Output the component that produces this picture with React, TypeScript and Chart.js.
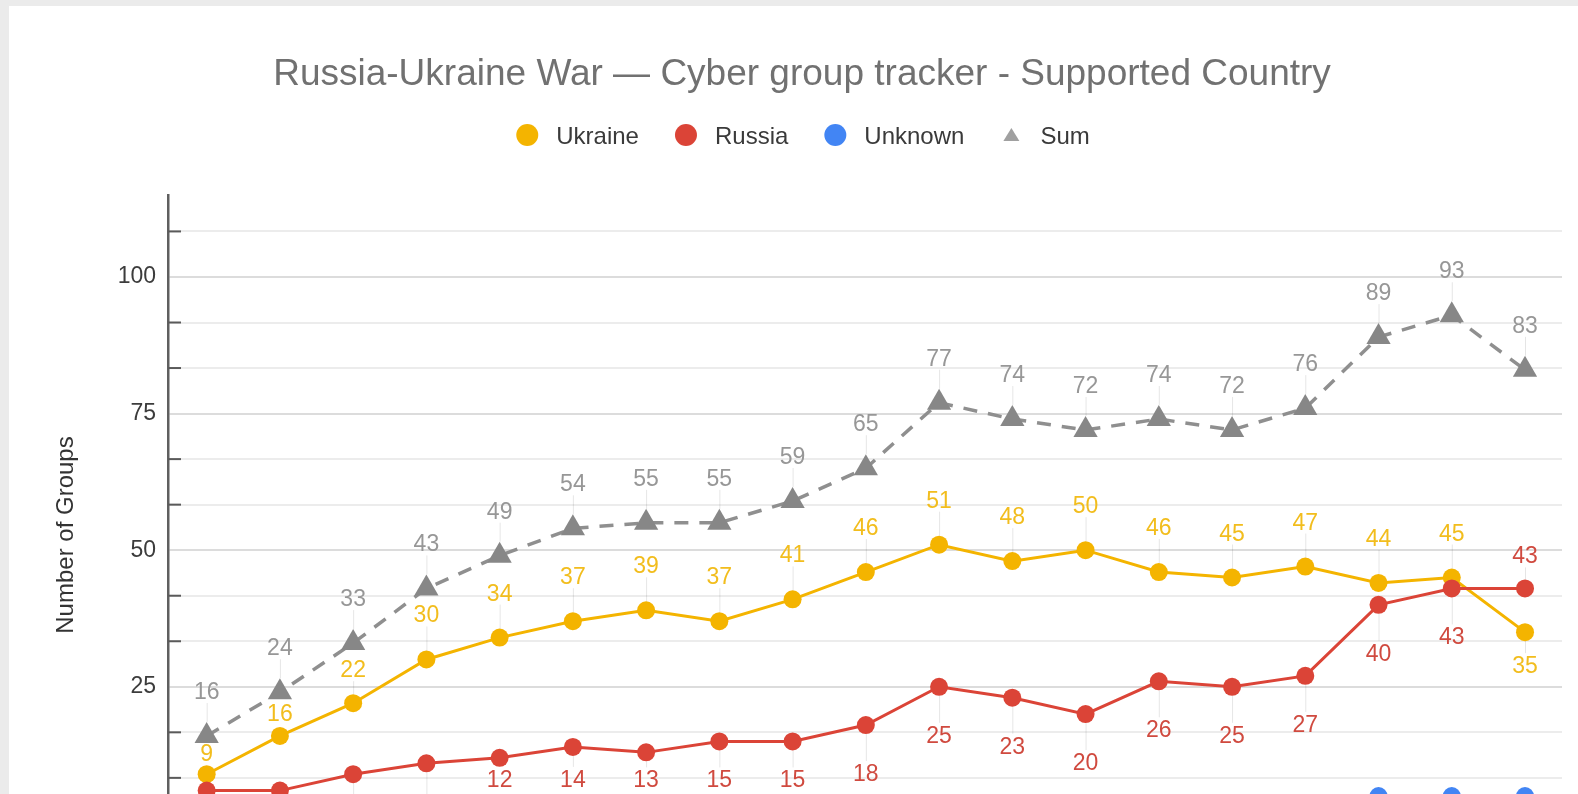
import React, { useEffect, useRef } from "react";
import { Chart, registerables } from "chart.js";

Chart.register(...registerables);

// ---------- data ----------
const TITLE = "Russia-Ukraine War — Cyber group tracker - Supported Country";
const Y_TITLE = "Number of Groups";
const SERIES_NAMES = ["Ukraine", "Russia", "Unknown", "Sum"];
const ukraine = [9, 16, 22, 30, 34, 37, 39, 37, 41, 46, 51, 48, 50, 46, 45, 47, 44, 45, 35];
const russia = [6, 6, 9, 11, 12, 14, 13, 15, 15, 18, 25, 23, 20, 26, 25, 27, 40, 43, 43];
const unknown = [1, 2, 2, 2, 3, 3, 3, 3, 3, 1, 1, 3, 2, 2, 2, 2, 5, 5, 5];
const sum = [16, 24, 33, 43, 49, 54, 55, 55, 59, 65, 77, 74, 72, 74, 72, 76, 89, 93, 83];
const Y_MAJOR_LABELS = [0, 25, 50, 75, 100];
const Y_GRID_STEP = 25 / 3;
const Y_MAX = 115;

// ---------- style ----------
const FONT = "'Liberation Sans', Arial, Helvetica, sans-serif";
const COLORS = ["#f4b400", "#db4437", "#4285f4", "#9a9a9a"];
const LABEL_COLORS = ["#f2bd1d", "#d04a3f", "#4285f4", "#979797"];
const LABEL_DEFAULT_OFFSET = [-45, 48, 48, -45];
const LABEL_OFFSET_OVERRIDES: Record<number, number>[] = [
  { 0: -21, 1: -23, 2: -34, 18: 33 },
  { 4: 21, 5: 32, 6: 27, 7: 38, 8: 38, 18: -33 },
  {},
  {},
];

const isMajor = (v: number) => {
  const r = Math.round(v);
  return Math.abs(v - r) < 0.01 && r % 25 === 0;
};

const toXY = (arr: number[]) => arr.map((v, i) => ({ x: i, y: v }));

const decorPlugin = {
  id: "decor",
  beforeDraw(chart: any) {
    const { ctx, width, height } = chart;
    ctx.save();
    ctx.fillStyle = "#ebebeb";
    ctx.fillRect(0, 0, width, height);
    ctx.fillStyle = "#ffffff";
    ctx.fillRect(9, 6, width, height);
    ctx.restore();
  },
  afterDatasetsDraw(chart: any) {
    const { ctx } = chart;
    ctx.save();
    ctx.font = `23px ${FONT}`;
    ctx.textAlign = "center";
    ctx.textBaseline = "alphabetic";
    chart.data.datasets.forEach((ds: any, di: number) => {
      const meta = chart.getDatasetMeta(di);
      const r = di === 3 ? 14 : 9;
      meta.data.forEach((pt: any, i: number) => {
        const ov = LABEL_OFFSET_OVERRIDES[di][i];
        const off = ov !== undefined ? ov : LABEL_DEFAULT_OFFSET[di];
        const ly = pt.y + off;
        // leader line
        ctx.strokeStyle = "rgba(0,0,0,0.10)";
        ctx.lineWidth = 1;
        ctx.beginPath();
        if (off < 0) {
          const y1 = ly + 12;
          const y2 = pt.y - r;
          if (y2 - y1 > 2) {
            ctx.moveTo(pt.x + 0.5, y1);
            ctx.lineTo(pt.x + 0.5, y2);
          }
        } else {
          const y1 = pt.y + (di === 3 ? 7 : r);
          const y2 = ly - 12;
          if (y2 - y1 > 2) {
            ctx.moveTo(pt.x + 0.5, y1);
            ctx.lineTo(pt.x + 0.5, y2);
          }
        }
        ctx.stroke();
        ctx.fillStyle = LABEL_COLORS[di];
        ctx.fillText(String(ds.data[i].y), pt.x, ly + 8);
      });
    });
    ctx.restore();
  },
  afterDraw(chart: any) {
    const { ctx, chartArea, scales } = chart;
    ctx.save();
    // title
    ctx.fillStyle = "#717171";
    ctx.font = `37px ${FONT}`;
    ctx.textAlign = "center";
    ctx.textBaseline = "alphabetic";
    ctx.fillText(TITLE, 802, 85);

    // legend
    ctx.font = `24px ${FONT}`;
    ctx.textAlign = "left";
    const widths = SERIES_NAMES.map((n) => ctx.measureText(n).width);
    const total = 11 + widths.reduce((a, w) => a + 29 + w, 0) + 3 * 47;
    let cx = 803 - total / 2 + 11;
    const ly = 135;
    SERIES_NAMES.forEach((name, i) => {
      ctx.fillStyle = COLORS[i];
      ctx.beginPath();
      if (i === 3) {
        ctx.fillStyle = "#a0a0a0";
        ctx.moveTo(cx, ly - 7);
        ctx.lineTo(cx + 8, ly + 6);
        ctx.lineTo(cx - 8, ly + 6);
        ctx.closePath();
      } else {
        ctx.arc(cx, ly, 11, 0, Math.PI * 2);
      }
      ctx.fill();
      ctx.fillStyle = "#3a3a3a";
      ctx.fillText(name, cx + 29, ly + 8.5);
      cx += 29 + widths[i] + 47;
    });

    // y axis title
    ctx.save();
    ctx.translate(66, 535);
    ctx.rotate(-Math.PI / 2);
    ctx.font = `24px ${FONT}`;
    ctx.fillStyle = "#333333";
    ctx.textAlign = "center";
    ctx.textBaseline = "middle";
    ctx.fillText(Y_TITLE, 0, 0);
    ctx.restore();

    // minor tick marks
    const ys = scales.y;
    ctx.strokeStyle = "#5a5a5a";
    ctx.lineWidth = 2;
    ys.ticks.forEach((t: any) => {
      if (isMajor(t.value)) return;
      const y = ys.getPixelForValue(t.value);
      ctx.beginPath();
      ctx.moveTo(chartArea.left, y);
      ctx.lineTo(chartArea.left + 13, y);
      ctx.stroke();
    });
    ctx.restore();
  },
};

export default function App() {
  const ref = useRef<HTMLCanvasElement>(null);
  useEffect(() => {
    const canvas = ref.current;
    if (!canvas) return;
    const chart = new Chart(canvas, {
      type: "line",
      data: {
        datasets: [
          {
            label: SERIES_NAMES[0],
            data: toXY(ukraine),
            borderColor: COLORS[0],
            backgroundColor: COLORS[0],
            borderWidth: 3,
            pointRadius: 9,
            pointBorderWidth: 0,
            pointBackgroundColor: COLORS[0],
            order: 3,
          },
          {
            label: SERIES_NAMES[1],
            data: toXY(russia),
            borderColor: COLORS[1],
            backgroundColor: COLORS[1],
            borderWidth: 3,
            pointRadius: 9,
            pointBorderWidth: 0,
            pointBackgroundColor: COLORS[1],
            order: 2,
          },
          {
            label: SERIES_NAMES[2],
            data: toXY(unknown),
            borderColor: COLORS[2],
            backgroundColor: COLORS[2],
            borderWidth: 3,
            pointRadius: 9,
            pointBorderWidth: 0,
            pointBackgroundColor: COLORS[2],
            order: 4,
          },
          {
            label: SERIES_NAMES[3],
            data: toXY(sum),
            borderColor: "#8f8f8f",
            backgroundColor: "#878787",
            borderWidth: 3.5,
            borderDash: [14, 11],
            pointStyle: "triangle",
            pointRadius: 14,
            pointBorderWidth: 0,
            pointBackgroundColor: "#878787",
            order: 1,
          },
        ],
      },
      options: {
        responsive: false,
        animation: false,
        devicePixelRatio: 1,
        layout: { padding: { left: 0, right: 16, top: 195, bottom: 900 - 823.4 } },
        plugins: {
          legend: { display: false },
          title: { display: false },
          tooltip: { enabled: false },
        },
        scales: {
          x: {
            type: "linear",
            min: -0.528,
            max: 18.505,
            display: false,
          },
          y: {
            type: "linear",
            min: 0,
            max: Y_MAX,
            afterBuildTicks: (scale: any) => {
              const t: { value: number }[] = [];
              for (let k = 0; k * Y_GRID_STEP < Y_MAX - 1; k++) t.push({ value: k * Y_GRID_STEP });
              scale.ticks = t;
            },
            afterFit: (scale: any) => {
              scale.width = 168;
            },
            border: { display: true, color: "#5f5f5f", width: 2.5 },
            grid: {
              drawTicks: false,
              color: (c: any) => (c.tick && isMajor(c.tick.value) ? "#dcdcdc" : "#ececec"),
              lineWidth: 2,
            },
            ticks: {
              padding: 12,
              color: "#3c3c3c",
              font: { size: 23, family: FONT },
              callback: (v: any) => {
                const n = Number(v);
                return isMajor(n) && Y_MAJOR_LABELS.includes(Math.round(n)) ? String(Math.round(n)) : "";
              },
            },
          },
        },
      },
      plugins: [decorPlugin],
    } as any);
    return () => chart.destroy();
  }, []);
  return (
    <div
      style={{
        position: "fixed",
        left: 0,
        top: 0,
        width: 1578,
        height: 794,
        overflow: "hidden",
        background: "#ebebeb",
      }}
    >
      <canvas ref={ref} width={1578} height={900} style={{ display: "block", width: 1578, height: 900 }} />
    </div>
  );
}
